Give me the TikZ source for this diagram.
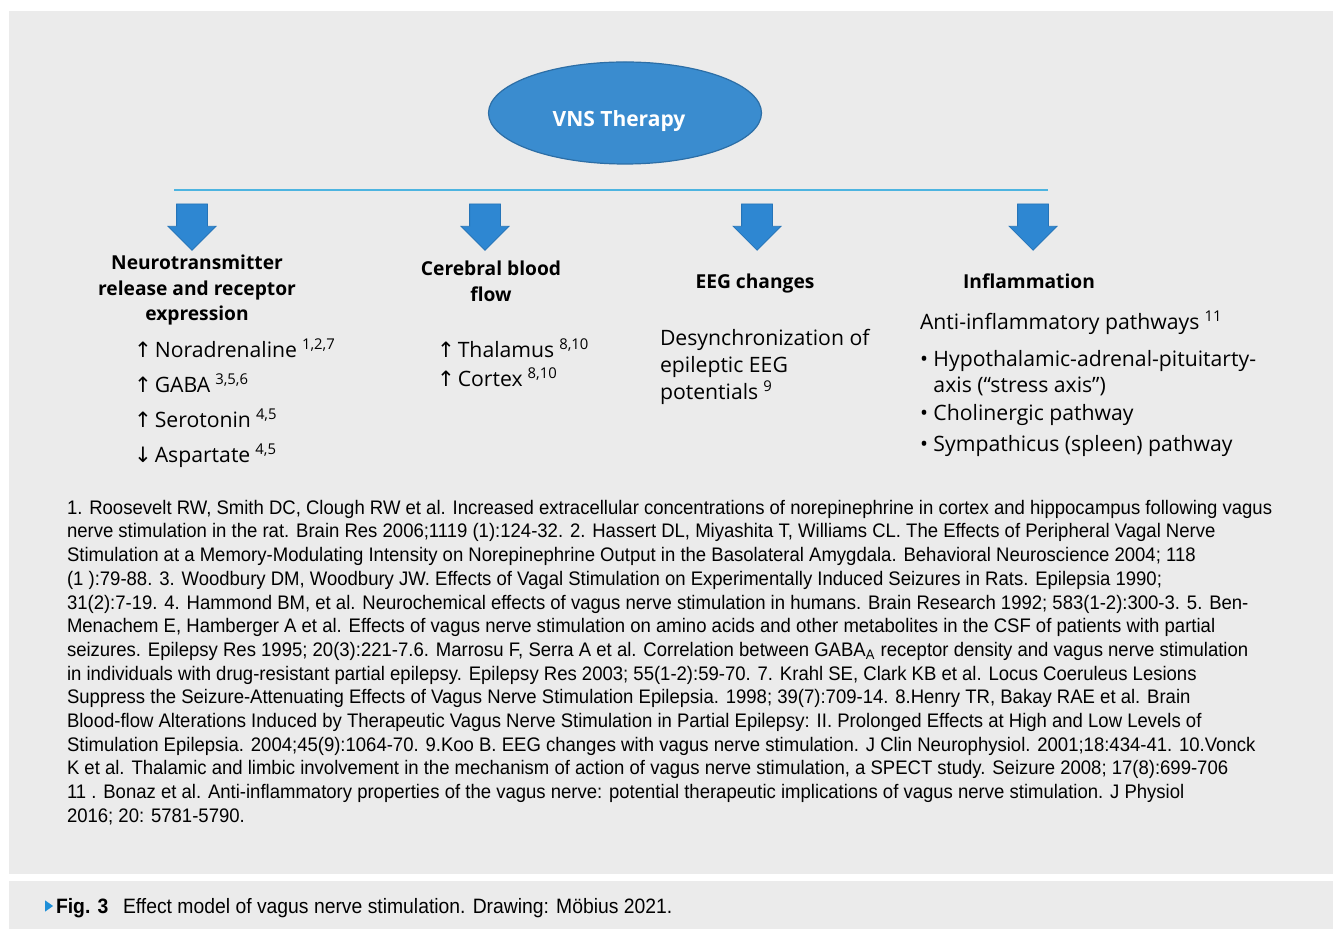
\documentclass[tikz,border=0pt]{standalone}
\usepackage{fontspec}
\setmainfont{Open Sans}
\newfontfamily\symfont{DejaVu Sans}
\newfontfamily\reffont[FakeStretch=0.945]{Liberation Sans}
\newfontfamily\capfont[FakeStretch=0.93]{Liberation Sans}
\usetikzlibrary{shapes.geometric,shapes.arrows,positioning}

\definecolor{panelgray}{HTML}{EBEBEB}
\definecolor{vnsblue}{HTML}{3A8CCF}
\definecolor{vnsedge}{HTML}{2C6EA6}
\definecolor{barblue}{HTML}{4DB4E0}
\definecolor{arrowblue}{HTML}{2E87D2}
\definecolor{arrowedge}{HTML}{2574B8}
\definecolor{figblue}{HTML}{1E8FD8}

\newcommand{\up}{{\symfont\char"2191}\kern1.5pt}
\newcommand{\down}{{\symfont\char"2193}\kern1.5pt}
\newcommand{\refs}[1]{\kern2.5pt\textsuperscript{#1}}

\begin{document}
\begin{tikzpicture}[x=0.5pt,y=-0.5pt,
  every node/.style={inner sep=0pt,outer sep=0pt},
  head/.style={font=\bfseries\fontsize{9.6}{12.75}\selectfont,align=center},
  item/.style={font=\fontsize{10.6}{17.5}\selectfont,align=left,anchor=north west},
  downarrow/.style={single arrow,shape border rotate=270,fill=arrowblue,
    draw=arrowedge,line width=0.4pt,inner sep=7.5pt,minimum height=23pt,
    single arrow head extend=4.25pt,anchor=tail}]
  \useasboundingbox (0,0) rectangle (1338,929);
  % panels
  \fill[panelgray] (9,11) rectangle (1333,874);
  \fill[panelgray] (9,881) rectangle (1333,929);

  % top
  \node (vns) [ellipse,fill=vnsblue,draw=vnsedge,line width=0.6pt,
    minimum width=136.5pt,minimum height=51pt,text=white,
    text height=16pt,text depth=2.5pt,
    font=\bfseries\fontsize{10.5}{12}\selectfont] at (625,113) {VNS Therapy\kern6pt};
  \coordinate (barL) at (174,190);
  \coordinate (barR) at (1048,190);
  \draw[barblue,line width=1.4pt] (barL) -- (barR);

  % arrows
  \node (arrNT) [downarrow] at (192,204) {};
  \node (arrCB) [downarrow] at (485,204) {};
  \node (arrEEG) [downarrow] at (757,204) {};
  \node (arrInf) [downarrow] at (1033,204) {};

  % headings
  \node (hNT) [head,anchor=north] at (197,255) {Neurotransmitter\\release and receptor\\expression};
  \node (hCB) [head,anchor=north] at (491,261) {Cerebral blood\\flow};
  \node (hEEG) [head,anchor=north] at (755,274) {EEG changes};
  \node (hInf) [head,anchor=north] at (1029,274) {Inflammation};

  % effects
  \node (lNT) [item] at (134,339) {\up Noradrenaline\refs{1,2,7}\\
    \up GABA\refs{3,5,6}\\ \up Serotonin\refs{4,5}\\ \down Aspartate\refs{4,5}};
  \node (lCB) [item,font=\fontsize{10.6}{14.5}\selectfont] at (437,339)
    {\up Thalamus\refs{8,10}\\ \up Cortex\refs{8,10}};
  \node (lEEG) [item,font=\fontsize{10.6}{13.5}\selectfont] at (660,329)
    {Desynchronization of\\ epileptic EEG\\ potentials\refs{9}};
  \node (lInf) [item,font=\fontsize{10.6}{13}\selectfont] at (920,311)
    {Anti-inflammatory pathways\refs{11}\\[5.5pt]
    \textbullet\ Hypothalamic-adrenal-pituitarty-\\
    \hphantom{\textbullet\ }axis (“stress axis”)\\[1pt]
    \textbullet\ Cholinergic pathway\\[2.5pt]
    \textbullet\ Sympathicus (spleen) pathway};

  % references
  \node (refs) [anchor=north west,align=left,
    font=\reffont\fontsize{9.8}{11.85}\selectfont] at (67,500)
  {1. Roosevelt RW, Smith DC, Clough RW et al. Increased extracellular concentrations of norepinephrine in cortex and hippocampus following vagus\\
  nerve stimulation in the rat. Brain Res 2006;1119 (1):124-32. 2. Hassert DL, Miyashita T, Williams CL. The Effects of Peripheral Vagal Nerve\\
  Stimulation at a Memory-Modulating Intensity on Norepinephrine Output in the Basolateral Amygdala. Behavioral Neuroscience 2004; 118\\
  (1 ):79-88. 3. Woodbury DM, Woodbury JW. Effects of Vagal Stimulation on Experimentally Induced Seizures in Rats. Epilepsia 1990;\\
  31(2):7-19. 4. Hammond BM, et al. Neurochemical effects of vagus nerve stimulation in humans. Brain Research 1992; 583(1-2):300-3. 5. Ben-\\
  Menachem E, Hamberger A et al. Effects of vagus nerve stimulation on amino acids and other metabolites in the CSF of patients with partial\\
  seizures. Epilepsy Res 1995; 20(3):221-7.6. Marrosu F, Serra A et al. Correlation between GABA\textsubscript{A} receptor density and vagus nerve stimulation\\
  in individuals with drug-resistant partial epilepsy. Epilepsy Res 2003; 55(1-2):59-70. 7. Krahl SE, Clark KB et al. Locus Coeruleus Lesions\\
  Suppress the Seizure-Attenuating Effects of Vagus Nerve Stimulation Epilepsia. 1998; 39(7):709-14. 8.Henry TR, Bakay RAE et al. Brain\\
  Blood-flow Alterations Induced by Therapeutic Vagus Nerve Stimulation in Partial Epilepsy: II. Prolonged Effects at High and Low Levels of\\
  Stimulation Epilepsia. 2004;45(9):1064-70. 9.Koo B. EEG changes with vagus nerve stimulation. J Clin Neurophysiol. 2001;18:434-41. 10.Vonck\\
  K et al. Thalamic and limbic involvement in the mechanism of action of vagus nerve stimulation, a SPECT study. Seizure 2008; 17(8):699-706\\
  11 . Bonaz et al. Anti-inflammatory properties of the vagus nerve: potential therapeutic implications of vagus nerve stimulation. J Physiol\\
  2016; 20: 5781-5790.};

  % caption
  \node (tri) [isosceles triangle,fill=figblue,minimum height=4pt,
    minimum width=5pt,isosceles triangle apex angle=70] at (48,906) {};
  \node (fig) [anchor=base west,font=\capfont\bfseries\fontsize{10.4}{11}\selectfont]
    at (56,913) {Fig. 3};
  \node (cap) [anchor=base west,font=\capfont\fontsize{10.4}{11}\selectfont]
    at (123,913) {Effect model of vagus nerve stimulation. Drawing: Möbius 2021.};
\end{tikzpicture}
\end{document}
